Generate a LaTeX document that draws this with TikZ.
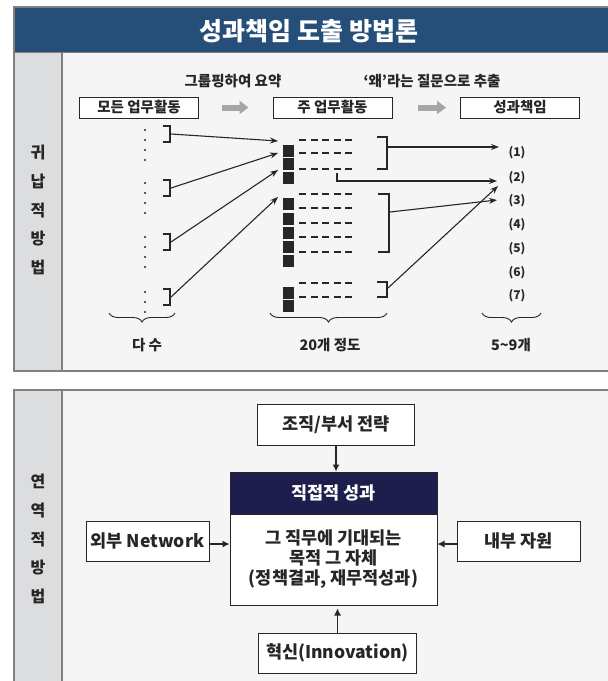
\documentclass[tikz,border=0pt]{standalone}
\usepackage{fontspec}
\setmainfont{Noto Sans CJK KR}
\usetikzlibrary{arrows.meta, positioning, decorations.pathreplacing}

\definecolor{titleblue}{RGB}{37,78,120}
\definecolor{sidegray}{RGB}{220,221,223}
\definecolor{panelgray}{RGB}{245,245,245}
\definecolor{framegray}{RGB}{128,128,128}
\definecolor{headnavy}{RGB}{30,30,76}
\definecolor{fatgray}{RGB}{166,166,166}
\definecolor{inkgray}{RGB}{38,38,38}

\begin{document}
\begin{tikzpicture}[x=1pt, y=-1pt, text=inkgray,
  frame/.style={framegray, line width=1.2pt},
  sidelabel/.style={align=center, font=\fontsize{16}{28.6}\selectfont\bfseries},
  stagebox/.style={draw=inkgray, line width=1pt, fill=white, minimum width=119pt, minimum height=21pt, inner sep=0pt, font=\fontsize{14.5}{16}\selectfont\bfseries},
  steplabel/.style={font=\fontsize{14.5}{16}\selectfont\bfseries},
  fatarrow/.style={fatgray, line width=6pt, -{Triangle[length=9pt, width=13pt]}},
  thinarrow/.style={inkgray, line width=1.1pt, -{Stealth[length=8pt, width=6pt]}},
  bracket/.style={inkgray, line width=1.3pt},
  dashrow/.style={inkgray, line width=1.1pt, dash pattern=on 7pt off 4.5pt},
  numlabel/.style={font=\fontsize{12}{14}\selectfont\bfseries},
  countlabel/.style={font=\fontsize{14.5}{16}\selectfont\bfseries},
  underbrace/.style={inkgray, line width=0.9pt, decorate, decoration={brace, mirror, amplitude=9pt}},
  planbox/.style={draw=inkgray, line width=1pt, fill=white, inner sep=0pt, font=\fontsize{17.5}{20}\selectfont\bfseries},
  planarrow/.style={inkgray, line width=1.1pt, -{Latex[length=7pt, width=7pt]}}]
\useasboundingbox (0,0) rectangle (608,681);

% title bar
\fill[titleblue] (14,7) rectangle (608,53);
\draw[frame] (608,7) -- (14,7) -- (14,53) -- (608,53);
\node[white, font=\fontsize{25}{28}\selectfont\bfseries] (title) at (309,31) {성과책임 도출 방법론};

% panels
\fill[panelgray] (14,53) rectangle (608,371);
\fill[sidegray] (14,53) rectangle (62,371);
\draw[frame] (14,53) -- (14,371) -- (608,371);
\draw[frame] (62,53) -- (62,371);
\fill[panelgray] (14,390) rectangle (608,681);
\fill[sidegray] (14,390) rectangle (62,681);
\draw[frame] (608,390) -- (14,390) -- (14,681);
\draw[frame] (62,390) -- (62,681);

\node[sidelabel] (induct) at (38,210) {귀\\납\\적\\방\\법};
\node[sidelabel] (deduct) at (38,539) {연\\역\\적\\방\\법};

% stages
\node[stagebox] (all) at (139,107.5) {모든 업무활동};
\node[stagebox] (main) at (332.5,107.5) {주 업무활동};
\node[stagebox] (resp) at (520,107.5) {성과책임};
\draw[fatarrow] ([xshift=23pt]all.east) -- ([xshift=-24pt]main.west);
\draw[fatarrow] ([xshift=25pt]main.east) -- ([xshift=-14pt]resp.west);
\node[steplabel] (grp) at (233,81) {그룹핑하여 요약};
\node[steplabel] (why) at (432,81) {‘왜’라는 질문으로 추출};

% all activities
\foreach \y in {130,140,150,160,183,193,203,213,237,247,257,267,292,302,312}
  \fill[inkgray] (145,\y) circle (1.1pt);
\foreach \top/\ty [count=\i] in {126/141, 180/153, 234/170, 289/197} {
  \draw[bracket] (163,\top) -- (170,\top) -- (170,\top+16) -- (163,\top+16);
  \coordinate (b\i) at (171,\top+8);
  \coordinate (in\i) at (278,\ty);
  \draw[thinarrow] (b\i) -- (in\i);
}

% main activities
\foreach \y in {145,158,172,198,213,227,241,255,287,300}
  \fill[inkgray] (283,\y) rectangle (294,\y+11.5);
\foreach \y in {140,153,169,194,208,223,237,252,283,297}
  \draw[dashrow] (299,\y) -- (353,\y);
\draw[bracket] (377,137) -- (387,137) -- (387,169) -- (377,169);
\draw[bracket] (378,194) -- (389,194) -- (389,252) -- (378,252);
\draw[bracket] (377,282) -- (387,282) -- (387,297) -- (377,297);

% accountabilities
\foreach \y [count=\i] in {153,178,201,225,249,273,296}
  \node[numlabel] (n\i) at (517,\y) {(\i)};
\coordinate (r1) at (388,147);
\coordinate (r2) at (337,173);
\coordinate (r3) at (390,212);
\coordinate (r4) at (388,288);
\coordinate (o1) at (499,147);
\coordinate (o2) at (497,181);
\coordinate (o3) at (497,200);
\coordinate (o4) at (498,186);
\draw[thinarrow] (r1) -- (o1);
\draw[thinarrow] (r2) |- (o2);
\draw[thinarrow] (r3) -- (o3);
\draw[thinarrow] (r4) -- (o4);

% counts
\draw[underbrace] (109,313) -- (175,313);
\draw[underbrace] (270,313) -- (387,313);
\draw[underbrace] (482,313) -- (541,313);
\node[countlabel] (many) at (147,345) {다 수};
\node[countlabel] (twenty) at (330,345) {20개 정도};
\node[countlabel] (few) at (511,345) {5\char"7E 9개};

% deductive method
\node[planbox, minimum width=157pt, minimum height=41pt] (strat) at (336,425) {조직/부서 전략};
\node[planbox, fill=headnavy, text=white, minimum width=207pt, minimum height=42pt] (head) at (333.5,493) {직접적 성과};
\node[planbox, align=center, minimum width=207pt, minimum height=91pt] (body) at (333.5,559.5) {그 직무에 기대되는\\목적 그 자체\\(정책결과, 재무적성과)};
\node[planbox, minimum width=123pt, minimum height=40pt] (ext) at (147.5,541) {외부 Network};
\node[planbox, minimum width=123pt, minimum height=40pt] (int) at (518.5,541) {내부 자원};
\node[planbox, minimum width=158pt, minimum height=40pt] (innov) at (337.5,653) {혁신(Innovation)};
\draw[planarrow] (strat) -- (strat |- head.north);
\draw[planarrow] (innov) -- ([yshift=-3pt]innov |- body.south);
\draw[planarrow] ([yshift=-3pt]ext.east) -- ([yshift=-3pt]ext.east -| body.west);
\draw[planarrow] ([yshift=-3pt]int.west) -- ([yshift=-3pt]int.west -| body.east);
\end{tikzpicture}
\end{document}
